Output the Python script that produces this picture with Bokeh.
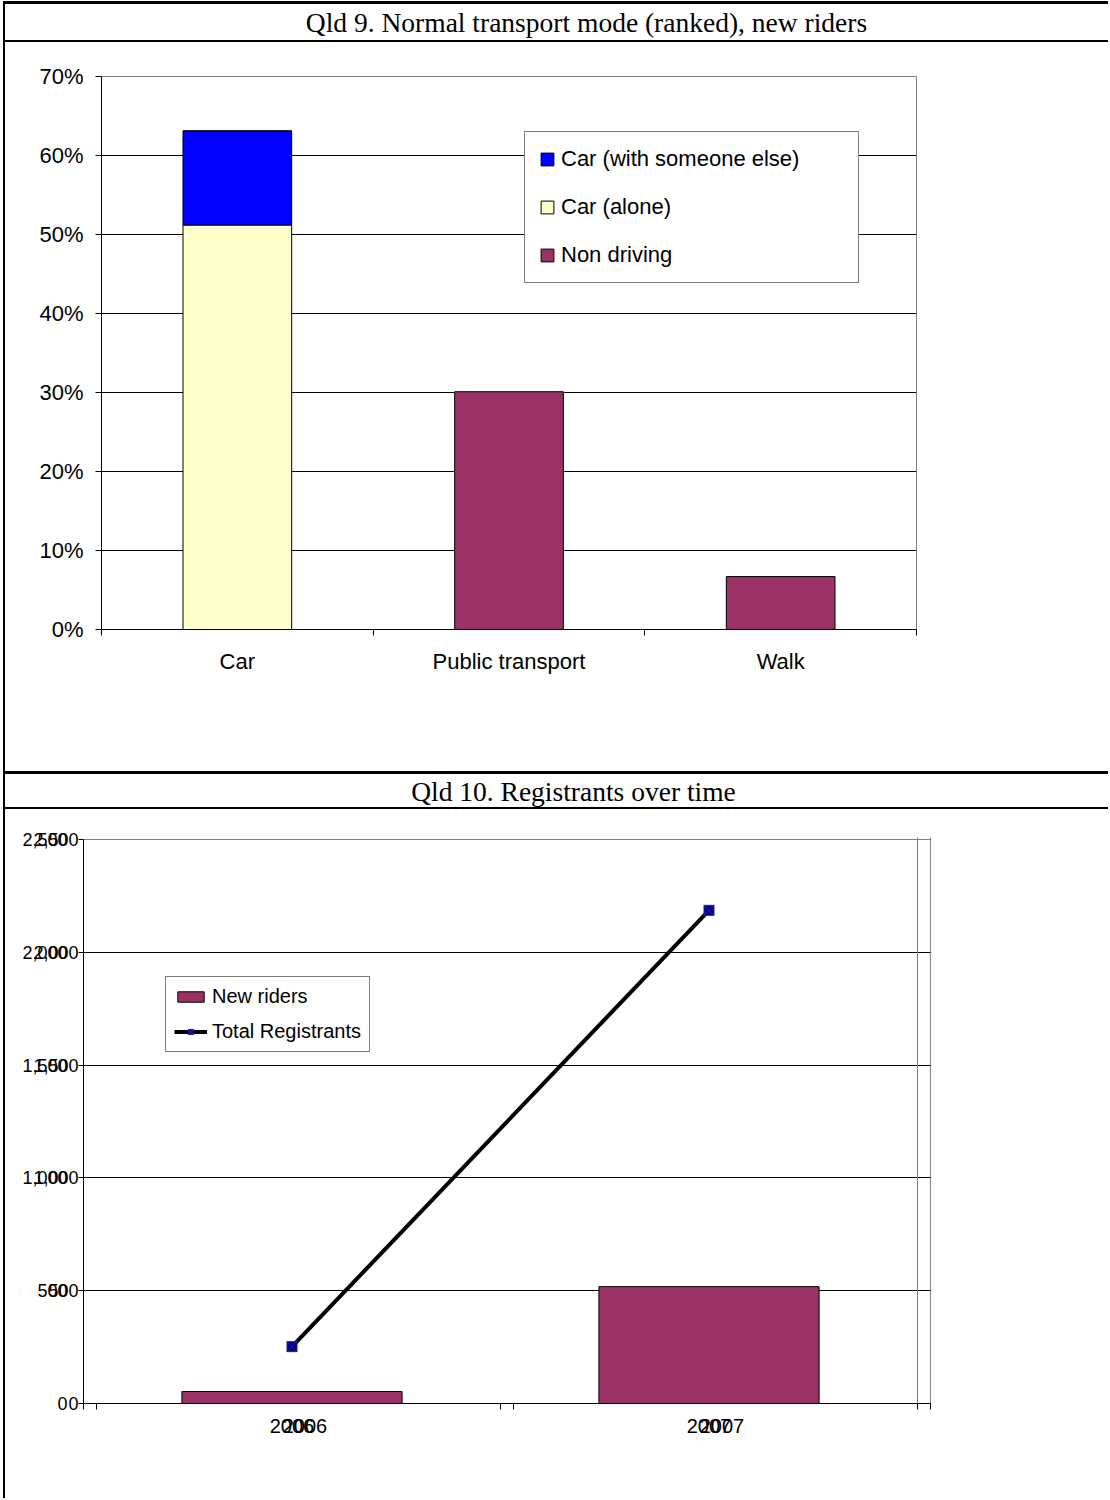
from bokeh.plotting import figure
from bokeh.models import (Range1d, FixedTicker, PrintfTickFormatter, NumeralTickFormatter,
                          Legend, LegendItem, ColumnDataSource, Label, Span, Div,
                          LinearAxis, BoxAnnotation)
from bokeh.layouts import column, row
from bokeh.embed import file_html
from bokeh.resources import INLINE

# ---------------- data: chart 1 ----------------
title1 = "Qld 9. Normal transport mode (ranked), new riders"
modes = ["Car", "Public transport", "Walk"]
car_alone = [51.2, 0.0, 0.0]
car_with_someone = [11.9, 0.0, 0.0]
non_driving = [0.0, 30.1, 6.7]
pct_ticks = [0, 10, 20, 30, 40, 50, 60, 70]

# ---------------- data: chart 2 ----------------
title2 = "Qld 10. Registrants over time"
years = ["2006", "2007"]
new_riders = [53, 518]
total_registrants = [252, 2186]
count_ticks = [0, 500, 1000, 1500, 2000, 2500]

SANS = "Liberation Sans"
SERIF = "Liberation Serif"
PLUM = "#993366"
W = 1103


def strip(w, h):
    return Div(text="", width=w, height=h, margin=0,
               styles={"background-color": "black", "overflow": "hidden"})


def title_fig(text, h, cx):
    f = figure(frame_width=W, frame_height=h, min_border=0, title=None,
               x_range=Range1d(0, W), y_range=Range1d(0, h),
               x_axis_type=None, y_axis_type=None,
               toolbar_location=None, output_backend="svg")
    f.grid.visible = False
    f.outline_line_color = None
    f.add_layout(Label(x=cx, y=h / 2, text=text, text_align="center",
                       text_baseline="middle", text_font=SERIF,
                       text_font_size="27.5px", text_color="black"))
    return f


# ---------------- chart 1 ----------------
src1 = ColumnDataSource(dict(
    x=[i + 0.5 for i in range(len(modes))],
    alone=car_alone, withsome=car_with_someone, non=non_driving))

p1 = figure(frame_width=815, frame_height=553, min_border_left=96, min_border_right=192,
            min_border_top=34, min_border_bottom=142, title=None,
            x_range=Range1d(0, 3), y_range=Range1d(0, 70),
            toolbar_location=None, output_backend="svg")

rs = p1.vbar_stack(["alone", "withsome", "non"], x="x", width=0.4, source=src1,
                   fill_color=["#FFFFCC", "#0000FF", PLUM], line_color="black", line_width=1)

p1.outline_line_color = "#808080"
p1.xgrid.visible = False
p1.ygrid.ticker = FixedTicker(ticks=pct_ticks[1:-1])
p1.ygrid.grid_line_color = "black"
p1.ygrid.grid_line_width = 1

ya = p1.yaxis[0]
ya.ticker = FixedTicker(ticks=pct_ticks)
ya.formatter = PrintfTickFormatter(format="%d%%")
ya.major_tick_out = 6
ya.major_tick_in = 0
ya.minor_tick_out = 0
ya.minor_tick_in = 0
ya.major_label_standoff = 12
ya.major_label_text_font = SANS
ya.major_label_text_font_size = "22px"
ya.major_label_text_color = "black"
ya.axis_line_color = "black"
ya.major_tick_line_color = "black"

xa = p1.xaxis[0]
xticks1 = [i + 0.5 for i in range(len(modes))]
xa.ticker = FixedTicker(ticks=xticks1, minor_ticks=[float(i) for i in range(len(modes) + 1)])
xa.major_label_overrides = {t: m for t, m in zip(xticks1, modes)}
xa.major_tick_out = 0
xa.major_tick_in = 0
xa.minor_tick_out = 6
xa.minor_tick_in = 0
xa.major_label_standoff = 13
xa.major_label_text_font = SANS
xa.major_label_text_font_size = "22px"
xa.major_label_text_color = "black"
xa.axis_line_color = "black"
xa.minor_tick_line_color = "black"

leg1 = Legend(items=[
    LegendItem(label="Car (with someone else)", renderers=[rs[1]]),
    LegendItem(label="Car (alone)", renderers=[rs[0]]),
    LegendItem(label="Non driving", renderers=[rs[2]]),
], location=(423, 346), orientation="vertical",
    border_line_color="black", border_line_width=1, background_fill_color="white",
    background_fill_alpha=1, label_text_font=SANS, label_text_font_size="22px",
    label_text_color="black", glyph_width=16, glyph_height=16, label_height=22,
    label_width=283, spacing=22, padding=14, label_standoff=6, margin=0)
p1.add_layout(leg1)

# ---------------- chart 2 ----------------
src2 = ColumnDataSource(dict(x=[i + 0.5 for i in range(len(years))],
                             new=new_riders, total=total_registrants))
shift = 0.031          # second, slightly shifted copy of the axes (as in the reference)
PX = 417.0             # pixels per category
PY = 564 / 2500.0      # pixels per registrant
x0 = -63 / PX
xend = len(years) + shift
ytop = count_ticks[-1]
y0 = -46 / PY
y1 = ytop + 12 / PY

p2 = figure(frame_width=911, frame_height=622, min_border_left=15, min_border_right=177,
            min_border_top=18, min_border_bottom=49, title=None,
            x_range=Range1d(x0, x0 + 911 / PX), y_range=Range1d(y0, y1),
            toolbar_location=None, output_backend="svg")
p2.outline_line_color = None

p2.xgrid.visible = False
p2.ygrid.ticker = FixedTicker(ticks=count_ticks[1:-1])
p2.ygrid.grid_line_color = "black"
p2.ygrid.grid_line_width = 1
p2.add_layout(Span(location=ytop, dimension="width", line_color="#808080",
                   line_width=1, level="underlay"))
p2.add_layout(Span(location=len(years), dimension="height", line_color="#808080",
                   line_width=1, level="underlay"))
p2.add_layout(Span(location=xend, dimension="height", line_color="#808080",
                   line_width=1, level="underlay"))
# white masks around the plotting area (label areas inside the extended frame)
p2.add_layout(BoxAnnotation(left=x0 - 1, right=0, bottom=y0 - 500, top=y1 + 500,
                            fill_color="white", fill_alpha=1, line_color=None,
                            level="underlay"))
p2.add_layout(BoxAnnotation(left=x0 - 1, right=xend + 1, bottom=y0 - 500, top=0,
                            fill_color="white", fill_alpha=1, line_color=None,
                            level="underlay"))
p2.add_layout(BoxAnnotation(left=x0 - 1, right=xend + 1, bottom=ytop + 2 / PY, top=y1 + 500,
                            fill_color="white", fill_alpha=1, line_color=None,
                            level="underlay"))

bars = p2.vbar(x="x", top="new", width=0.528, source=src2,
               fill_color=PLUM, line_color="black", line_width=1)
ln = p2.line(x="x", y="total", source=src2, line_color="black", line_width=4)
pts = p2.scatter(x="x", y="total", source=src2, marker="square_x", size=10,
                 fill_color="#000080", line_color="#2020A0", line_width=1)

ya2 = p2.yaxis[0]
ya2.fixed_location = 0
ya2.bounds = (0, ytop)
ya2.ticker = FixedTicker(ticks=count_ticks)
ya2.formatter = NumeralTickFormatter(format="0,0")
ya2.major_tick_out = 5
ya2.major_tick_in = 0
ya2.minor_tick_out = 0
ya2.minor_tick_in = 0
ya2.major_label_standoff = 0
ya2.major_label_text_font = SANS
ya2.major_label_text_font_size = "18px"
ya2.major_label_text_color = "black"
ya2.axis_line_color = "black"

# duplicated (overlaid) value axis labels
yb = LinearAxis(fixed_location=0, bounds=(0, ytop),
                ticker=FixedTicker(ticks=count_ticks),
                formatter=NumeralTickFormatter(format="0,0"),
                axis_line_color=None, major_tick_line_color=None,
                minor_tick_line_color=None, major_tick_out=0, major_tick_in=0,
                minor_tick_out=0, minor_tick_in=0, major_label_standoff=16,
                major_label_text_font=SANS, major_label_text_font_size="18px",
                major_label_text_color="black")
p2.add_layout(yb, "left")

xa2 = p2.xaxis[0]
xt2 = []
xlab2 = {}
for i, yr in enumerate(years):
    for t in (i + 0.5, i + 0.5 + shift):
        xt2.append(t)
        xlab2[t] = yr
minor2 = []
for i in range(len(years) + 1):
    minor2 += [float(i), i + shift]
xa2.fixed_location = 0
xa2.bounds = (0, xend)
xa2.ticker = FixedTicker(ticks=xt2, minor_ticks=minor2)
xa2.major_label_overrides = xlab2
xa2.major_tick_out = 0
xa2.major_tick_in = 0
xa2.minor_tick_out = 6
xa2.minor_tick_in = 0
xa2.major_label_standoff = 9
xa2.major_label_text_font = SANS
xa2.major_label_text_font_size = "20px"
xa2.major_label_text_color = "black"
xa2.axis_line_color = "black"
xa2.minor_tick_line_color = "black"

leg2 = Legend(items=[
    LegendItem(label="New riders", renderers=[bars]),
    LegendItem(label="Total Registrants", renderers=[ln, pts]),
], location=(145, 397), orientation="vertical",
    border_line_color="black", border_line_width=1, background_fill_color="white",
    background_fill_alpha=1, label_text_font=SANS, label_text_font_size="20px",
    label_text_color="black", glyph_width=33, glyph_height=13, label_height=22,
    spacing=12, padding=8, label_standoff=5, margin=0)
p2.add_layout(leg2)

# ---------------- page layout (table-like cells) ----------------
layout = column(
    strip(W + 2, 3),
    row(strip(2, 36), title_fig(title1, 36, 581), spacing=0),
    strip(W + 2, 2),
    row(strip(2, 729), p1, spacing=0),
    strip(W + 2, 3),
    row(strip(2, 33), title_fig(title2, 33, 568), spacing=0),
    strip(W + 2, 2),
    row(strip(2, 689), p2, spacing=0),
    spacing=0,
    margin=(1, 0, 0, 3),
)

open("out.html", "w").write(file_html(layout, INLINE))
